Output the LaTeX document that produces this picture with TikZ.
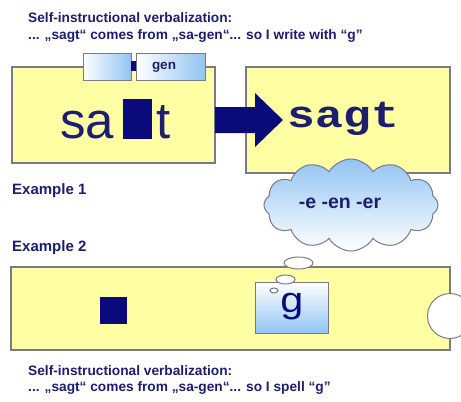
\documentclass[tikz,border=0pt]{standalone}
\usepackage{fontspec}
\setmainfont{Liberation Sans}
\newfontfamily\monofont{Liberation Mono}
\usetikzlibrary{shapes.symbols,shapes.geometric}
\definecolor{navytext}{HTML}{1E1E70}
\definecolor{navyfill}{HTML}{0A0A7A}
\definecolor{boxyellow}{HTML}{FFFFA3}
\definecolor{lblue}{HTML}{92C4F2}
\definecolor{edgegray}{HTML}{7A7A8A}
\tikzset{
  ybox/.style={draw=edgegray, line width=1.1pt, fill=boxyellow},
  tabbox/.style={draw=edgegray, line width=1pt, left color=white, right color=lblue},
  txt/.style={inner sep=0pt, anchor=base west, text=navytext},
  boldtxt/.style={txt, font=\bfseries\fontsize{13.7}{16}\selectfont},
  bubble/.style={draw=edgegray, line width=1pt, fill=white, ellipse, inner sep=0pt},
}
\begin{document}
\begin{tikzpicture}[x=1pt,y=-1pt]
\useasboundingbox (0,0) rectangle (461,402);
\clip (0,0) rectangle (461,402);
\fill[white] (0,0) rectangle (461,402);
% title
\node[boldtxt] (t1) at (28,22.5) {Self-instructional verbalization:};
\node[boldtxt] (t2) at (28,39) {... „sagt“ comes from „sa-gen“... so I write with “g”};
% box 1
\draw[ybox] (12,67) rectangle (215,163);
\draw[tabbox] (83,53) rectangle (131,80);
\draw[tabbox] (136,53) rectangle (205,80);
\node[inner sep=0pt, text=navytext, font=\bfseries\fontsize{13.5}{13.5}\selectfont] (gen) at (164,67) {gen};
\fill[navyfill] (131,61) rectangle (136,71);
\node[txt, font=\fontsize{51}{51}\selectfont] (sa) at (60,138) {sa};
\fill[navyfill] (123,99) rectangle (152,139);
\node[txt, font=\fontsize{51}{51}\selectfont] (tt) at (156,138) {t};
% box 2
\draw[ybox] (246,67) rectangle (450,173);
\node[inner sep=0pt, anchor=base, text=navytext, font=\monofont\bfseries\fontsize{38}{38}\selectfont] (sagt) at (343.5,127) {\scalebox{1.22}[1]{sagt}};
% arrow
\fill[navyfill] (215,107) -- (255,107) -- (255,93) -- (283,120) -- (255,147) -- (255,133) -- (215,133) -- cycle;
% cloud
\node[cloud, cloud puffs=12, cloud puff arc=120, aspect=1.9, draw=edgegray, line width=1pt,
  top color=lblue, bottom color=white, minimum width=174pt, minimum height=92pt, inner sep=0pt] (cl) at (351,205) {};
\node[inner sep=0pt, text=navytext, font=\bfseries\fontsize{19.5}{19.5}\selectfont] (suf) at (340,203) {-e -en -er};
% labels
\node[txt, font=\bfseries\fontsize{15}{15}\selectfont] (ex1) at (12,194) {Example 1};
\node[txt, font=\bfseries\fontsize{15}{15}\selectfont] (ex2) at (12,251) {Example 2};
% box 3
\draw[ybox] (11,267) rectangle (450,350);
\fill[navyfill] (100,297) rectangle (127,324);
\draw[edgegray, line width=1pt, top color=white, bottom color=lblue] (255,282) rectangle (328,333);
\node[inner sep=0pt, anchor=base, text=navyfill, font=\fontsize{36}{36}\selectfont] (g) at (292,312) {\scalebox{1.15}[1]{g}};
% thought bubbles
\node[bubble, minimum width=29pt, minimum height=12pt] (e1) at (298.5,263) {};
\node[bubble, minimum width=19pt, minimum height=9pt] (e2) at (285.5,279.5) {};
\node[bubble, minimum width=8pt, minimum height=5pt] (e3) at (274,290.5) {};
% right circle
\node[circle, draw=edgegray, line width=1pt, fill=white, minimum size=45pt, inner sep=0pt] (rc) at (450,316) {};
% bottom text
\node[boldtxt] (t3) at (28,375) {Self-instructional verbalization:};
\node[boldtxt] (t4) at (28,391.5) {... „sagt“ comes from „sa-gen“... so I spell “g”};
\end{tikzpicture}
\end{document}
